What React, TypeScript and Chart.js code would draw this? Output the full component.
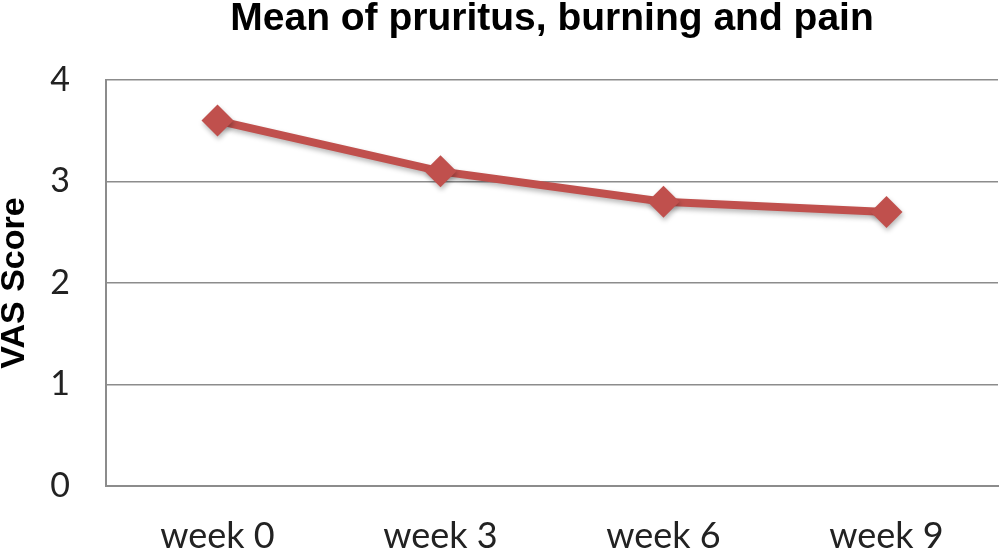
import React, { useEffect, useRef } from "react";
import { Chart, registerables } from "chart.js";

Chart.register(...registerables);

const categories = ["week 0", "week 3", "week 6", "week 9"];
const vasValues = [3.6, 3.1, 2.8, 2.7];
const yTicks = [0, 1, 2, 3, 4];

const shadowPlugin = {
  id: "lineShadow",
  beforeDatasetsDraw(chart: any) {
    const ctx = chart.ctx;
    ctx.save();
    ctx.shadowColor = "rgba(0,0,0,0.28)";
    ctx.shadowBlur = 5;
    ctx.shadowOffsetX = 1;
    ctx.shadowOffsetY = 3;
  },
  afterDatasetsDraw(chart: any) {
    chart.ctx.restore();
  },
};

export default function App() {
  const ref = useRef<HTMLCanvasElement | null>(null);
  useEffect(() => {
    if (!ref.current) return;
    const chart = new Chart(ref.current, {
      type: "line",
      data: {
        labels: categories,
        datasets: [
          {
            data: vasValues,
            borderColor: "#C0504D",
            backgroundColor: "#C0504D",
            borderWidth: 8,
            pointStyle: "rectRot",
            pointRadius: 16,
            pointHoverRadius: 16,
            pointBorderWidth: 0,
            pointBackgroundColor: "#C0504D",
            tension: 0,
          },
        ],
      },
      plugins: [shadowPlugin],
      options: {
        animation: false,
        responsive: false,
        maintainAspectRatio: false,
        layout: { autoPadding: false, padding: { top: 0, right: 2, bottom: 0, left: 0 } },
        plugins: {
          legend: { display: false },
          tooltip: { enabled: false },
          title: {
            display: true,
            fullSize: false,
            text: "Mean of pruritus, burning and pain",
            color: "#000",
            font: { family: "Liberation Sans, Arial, sans-serif", size: 39, weight: "bold", lineHeight: 1.0 },
            padding: { top: 0, bottom: 41 },
          },
        },
        scales: {
          x: {
            type: "category",
            offset: true,
            grid: { display: false, drawTicks: false },
            border: { display: true, color: "#8c8c8c", width: 2 },
            ticks: {
              color: "#222",
              padding: 29,
              font: { family: "Lato, sans-serif", size: 36 },
            },
            afterFit(scale: any) {
              scale.height = 65;
            },
          },
          y: {
            min: 0,
            max: 4,
            afterBuildTicks(scale: any) {
              scale.ticks = yTicks.map((v) => ({ value: v }));
            },
            grid: { color: "#8c8c8c", lineWidth: 1.5, drawTicks: false },
            border: { display: true, color: "#8c8c8c", width: 2 },
            ticks: {
              color: "#222",
              padding: 36,
              font: { family: "Lato, sans-serif", size: 34 },
            },
            title: {
              display: true,
              text: "VAS Score",
              color: "#000",
              font: { family: "Liberation Sans, Arial, sans-serif", size: 34, weight: "bold", lineHeight: 0.8 },
              padding: { top: 1, bottom: 0 },
            },
            afterFit(scale: any) {
              scale.width = 106;
            },
          },
        },
      },
    });
    return () => chart.destroy();
  }, []);
  return (
    <div style={{ position: "fixed", left: 0, top: 0, width: 1000, height: 551, background: "#fff" }}>
      <canvas ref={ref} width={1000} height={551} style={{ display: "block" }} />
    </div>
  );
}
